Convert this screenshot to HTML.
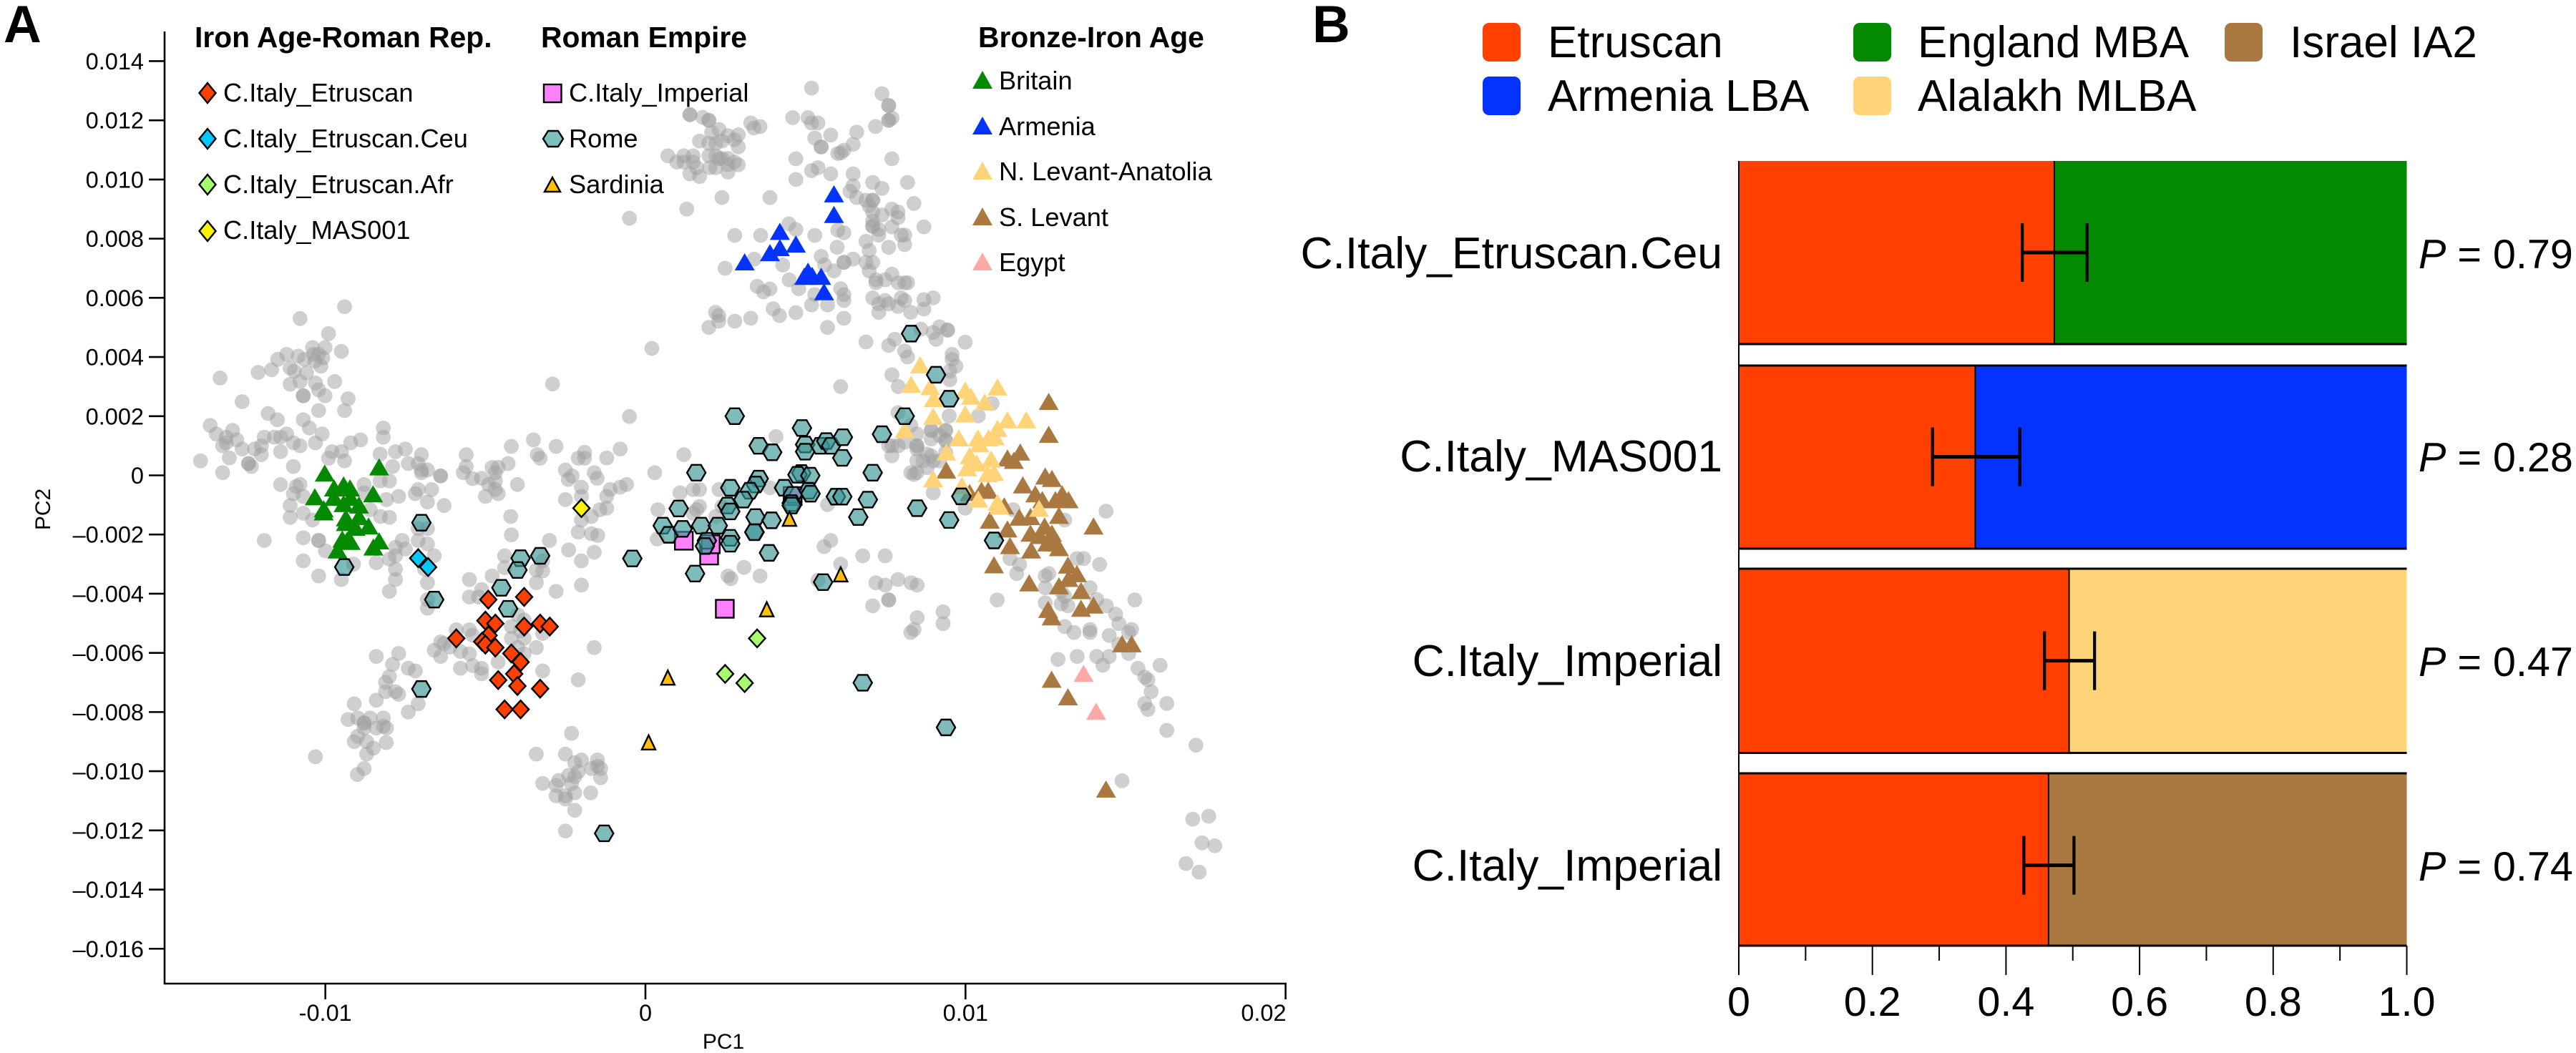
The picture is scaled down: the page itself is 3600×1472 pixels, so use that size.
<!DOCTYPE html>
<html lang="en">
<head>
<meta charset="utf-8">
<title>PCA and ancestry model panels</title>
<style>
html,body{margin:0;padding:0;background:#fff;width:3600px;height:1472px;overflow:hidden}
svg{display:block}
text{font-family:"Liberation Sans",Arial,sans-serif;fill:#000}
.t{font-size:40.8px;font-weight:700}
.l{font-size:36.2px}
.bl{font-size:62px}
</style>
</head>
<body>
<svg id="figure" width="3600" height="1472" viewBox="0 0 3600 1472" xmlns="http://www.w3.org/2000/svg">
<rect width="3600" height="1472" fill="#fff"/>
<text x="5" y="59" style="font-size:73px;font-weight:700">A</text>
<text x="1834" y="59" style="font-size:73px;font-weight:700">B</text>
<g id="panelA"></g>
<g id="axesA">
<text transform="translate(70,712) rotate(-90)" text-anchor="middle" style="font-size:30px">PC2</text>
<text x="1011" y="1466" text-anchor="middle" style="font-size:30px">PC1</text>
</g>
<g>
<text class="t" x="272" y="66">Iron Age-Roman Rep.</text>
<text class="t" x="756" y="66">Roman Empire</text>
<text class="t" x="1367" y="66">Bronze-Iron Age</text>
<text class="l" x="312" y="142">C.Italy_Etruscan</text>
<text class="l" x="312" y="206">C.Italy_Etruscan.Ceu</text>
<text class="l" x="312" y="270">C.Italy_Etruscan.Afr</text>
<text class="l" x="312" y="334">C.Italy_MAS001</text>
<text class="l" x="795" y="142">C.Italy_Imperial</text>
<text class="l" x="795" y="206">Rome</text>
<text class="l" x="795" y="270">Sardinia</text>
<text class="l" x="1396" y="125">Britain</text>
<text class="l" x="1396" y="189">Armenia</text>
<text class="l" x="1396" y="252">N. Levant-Anatolia</text>
<text class="l" x="1396" y="316">S. Levant</text>
<text class="l" x="1396" y="379">Egypt</text>
<polygon points="290,116 301.500,130 290,144 278.500,130" fill="#FF4000" stroke="#000" stroke-width="2.4"/>
<polygon points="290,180 301.500,194 290,208 278.500,194" fill="#00C8FF" stroke="#000" stroke-width="2.4"/>
<polygon points="290,244 301.500,258 290,272 278.500,258" fill="#A6FF6E" stroke="#000" stroke-width="2.4"/>
<polygon points="290,309 301.500,323 290,337 278.500,323" fill="#FFF200" stroke="#000" stroke-width="2.4"/>
<rect x="760" y="118" width="24.500" height="25" fill="#FF80FF" stroke="#000" stroke-width="2.4"/>
<polygon points="759,194 766,183 780,183 787,194 780,205 766,205" fill="#7DBEBF" stroke="#000" stroke-width="2.4"/>
<polygon points="772,248 783,268 761,268" fill="#FFC000" stroke="#000" stroke-width="2.4"/>
<polygon points="1373,99 1387,124 1359,124" fill="#048A00"/>
<polygon points="1373,163 1387,188 1359,188" fill="#0433FF"/>
<polygon points="1373,226 1387,251 1359,251" fill="#FFD479"/>
<polygon points="1373,290 1387,315 1359,315" fill="#AA7942"/>
<polygon points="1373,353 1387,378 1359,378" fill="#FFA8A8"/>
</g>
<g>
<rect x="2072" y="32" width="53" height="54" rx="9" fill="#FF4000"/>
<rect x="2072" y="107" width="53" height="54" rx="9" fill="#0433FF"/>
<rect x="2590" y="32" width="53" height="54" rx="9" fill="#048A00"/>
<rect x="2590" y="107" width="53" height="54" rx="9" fill="#FFD479"/>
<rect x="3109" y="32" width="53" height="54" rx="9" fill="#AA7942"/>
<text class="bl" x="2163" y="80">Etruscan</text>
<text class="bl" x="2163" y="155">Armenia LBA</text>
<text class="bl" x="2680" y="80">England MBA</text>
<text class="bl" x="2680" y="155">Alalakh MLBA</text>
<text class="bl" x="3200" y="80">Israel IA2</text>
</g>
<g id="panelB"></g>
</svg>
<script>
/* PC values are expressed in units of 10^-3 */
const yTickValues = [14,12,10,8,6,4,2,0,-2,-4,-6,-8,-10,-12,-14,-16];
const yTickLabels = ["0.014","0.012","0.010","0.008","0.006","0.004","0.002","0","–0.002","–0.004","–0.006","–0.008","–0.010","–0.012","–0.014","–0.016"];
const xTickValues = [-10,0,10,20];
const xTickLabels = ["-0.01","0","0.01","0.02"];

const greyPoints = [
[-9.40,5.70],[-10.79,5.30],[-9.90,4.79],[-9.50,4.19],[-10.40,4.32],[-10.01,4.32],[-11.21,4.09],[-11.49,3.92],[-10.85,4.03],[-10.65,3.92],[-10.37,4.09],[-10.21,4.09],[-10.08,3.97],[-10.33,3.86],[-10.14,3.69],[-11.68,3.57],[-12.10,3.48],[-11.10,3.63],[-10.97,3.52],[-10.59,3.46],[-13.29,3.29],[-9.71,3.17],[-11.10,3.08],[-10.79,3.17],[-10.31,3.12],[-10.69,2.69],[-10.69,2.69],[-10.21,2.89],[-10.01,2.69],[-9.29,2.59],[-12.60,2.49],[-11.79,2.09],[-9.40,2.19],[-10.21,2.19],[-11.50,1.88],[-10.69,1.88],[-13.60,1.69],[-10.50,1.60],[-8.19,1.60],[-13.41,1.40],[-12.90,1.52],[-13.10,1.29],[-8.19,1.29],[-10.10,1.40],[-11.91,1.29],[-11.60,1.29],[-11.21,1.40],[-11.40,1.29],[-8.90,1.20],[-9.21,1.10],[-10.31,1.10],[-11.00,1.10],[-10.79,1.00],[-12.77,1.20],[-13.21,1.00],[-13.10,1.10],[-12.60,0.89],[-12.21,0.89],[-12.00,1.00],[-11.40,0.80],[-9.79,0.80],[-9.50,0.80],[-8.29,0.72],[-7.81,0.80],[-7.50,0.89],[-7.00,0.70],[-5.60,0.70],[-4.19,0.98],[-3.50,1.20],[-2.79,0.98],[-3.38,0.70],[-3.29,0.58],[-12.00,0.70],[-13.00,0.59],[-12.40,0.40],[-12.40,0.40],[-12.31,0.30],[-13.90,0.49],[-13.21,0.09],[-11.00,0.30],[-9.40,0.49],[-9.90,0.58],[-7.90,0.30],[-7.10,0.40],[-7.41,0.40],[-7.00,0.18],[-6.81,0.18],[-6.40,-0.02],[-6.40,-0.02],[-7.00,0.09],[-5.60,0.30],[-5.69,0.09],[-5.40,-0.11],[-5.12,-0.10],[-4.79,0.27],[-4.60,0.27],[-4.69,0.09],[-4.29,0.40],[-4.69,-0.19],[-4.90,-0.31],[-4.00,-0.31],[-4.69,-0.48],[-4.60,-0.62],[-5.00,-0.71],[-4.21,-1.39],[-2.10,0.58],[-1.90,0.78],[-1.90,0.58],[-2.50,0.18],[-2.41,-0.14],[-2.29,-0.02],[-1.60,0.09],[-1.51,-0.10],[-0.79,0.89],[-1.21,0.59],[-2.00,-0.40],[-2.00,-0.71],[-1.10,-0.48],[-0.79,-0.40],[-0.59,-0.31],[-2.50,-0.82],[-1.21,-0.71],[-1.21,-1.11],[-1.42,-1.16],[-1.69,-1.39],[-2.00,-1.51],[-2.90,3.09],[-0.50,1.99],[-0.50,8.69],
[-11.40,-0.31],[-10.79,-0.31],[-10.91,-0.37],[-11.00,-0.62],[-10.69,-0.71],[-11.10,-1.02],[-11.10,-1.42],[-10.69,-1.28],[-10.40,-1.51],[-8.79,-0.31],[-8.29,-0.19],[-8.00,-0.19],[-8.79,-0.59],[-8.09,-0.82],[-7.71,-0.71],[-7.10,-0.48],[-6.68,-0.48],[-7.19,-0.62],[-6.81,-0.90],[-6.29,-1.02],[-8.00,-1.42],[-8.60,-1.16],[-8.28,-1.39],
[-11.91,-2.20],[-10.69,-2.11],[-10.21,-2.20],[-10.21,-2.20],[-10.69,-2.89],[-10.21,-3.40],[-9.50,-3.52],[-10.00,-2.55],[-9.12,-3.00],[-8.41,-2.95],[-8.00,-2.83],[-7.81,-2.43],[-7.60,-2.20],[-7.81,-2.72],[-7.50,-2.49],[-7.81,-3.17],[-7.81,-3.52],[-8.00,-3.92],[-7.10,-2.20],[-6.81,-2.32],[-6.60,-2.72],[-6.90,-3.17],[-6.81,-3.63],[-6.81,-4.49],[-7.10,-1.80],[-6.81,-1.80],[-6.81,-4.20],[-4.19,-2.01],[-4.40,-2.72],[-4.40,-3.12],[-4.79,-3.40],[-5.50,-3.52],[-5.12,-3.86],[-5.50,-4.11],[-5.21,-4.11],[-3.21,-2.89],[-3.00,-2.20],[-3.41,-3.20],[-3.21,-3.23],[-3.41,-3.63],[-2.79,-3.92],[-2.40,-2.52],[-2.00,-2.89],[-1.60,-2.60],[-2.00,-3.71],[-2.10,-1.92],[-1.69,-1.97],[-1.49,-2.03],[-1.60,-5.82],[-2.10,-6.91],[-5.91,-5.22],[-5.50,-5.22],[-6.40,-5.63],[-5.40,-5.40],[-6.60,-5.91],[-6.29,-5.68],[-6.40,-6.12],[-6.10,-5.80],[-5.78,-5.95],[-5.50,-6.03],[-5.40,-6.43],[-5.78,-6.52],[-5.12,-6.52],[-5.12,-6.71],[-4.60,-6.31],[-3.99,-4.71],[-3.79,-4.89],[-4.19,-5.11],[-3.79,-5.51],[-4.19,-5.51],[-3.99,-5.82],[-3.79,-6.03],[-3.41,-5.82],[-3.21,-6.61],[-3.90,-5.25],[-3.21,-5.34],[-8.41,-6.12],[-7.71,-6.02],[-7.90,-6.39],[-7.41,-6.52],[-7.19,-6.61],[-8.00,-6.80],[-8.12,-7.00],[-8.12,-7.31],[-7.81,-7.31],[-7.71,-7.40],[-8.41,-7.60],[-9.10,-7.72],[-7.10,-7.72],[-7.41,-8.00],[-9.29,-8.25],[-8.99,-8.20],[-8.60,-8.20],[-8.19,-8.20],[-8.79,-8.37],[-8.79,-8.37],[-8.79,-8.54],[-8.41,-8.54],[-8.19,-8.48],[-8.09,-8.54],[-8.99,-8.82],[-9.10,-9.00],[-8.71,-9.00],[-8.10,-9.03],[-8.50,-9.22],[-8.71,-9.42],[-10.31,-9.51],[-8.79,-9.91],[-9.00,-10.11],[-2.31,-8.72],[-3.41,-9.42],[-2.50,-9.42],[-2.00,-9.62],[-2.21,-9.71],[-1.50,-9.62],[-1.50,-9.83],[-1.69,-9.91],[-1.40,-9.91],[-2.10,-10.02],[-2.40,-10.14],[-1.40,-10.22],[-2.71,-10.31],[-2.21,-10.19],[-3.21,-10.41],[-2.79,-10.48],[-2.31,-10.42],[-2.21,-10.73],[-2.79,-10.83],[-2.50,-10.83],[-2.50,-10.94],[-1.71,-10.73],[-2.21,-11.32],[-2.50,-12.02],
[0.37,-2.15],[5.58,-2.41],[5.79,-2.20],[6.79,-2.72],[7.49,-2.72],[6.10,-3.00],[2.67,-3.49],[2.58,-3.40],[3.08,-3.11],[3.58,-3.40],[5.39,-3.55],[7.20,-3.63],[7.49,-3.71],[7.89,-3.52],[8.30,-3.63],[8.49,-3.71],[7.60,-4.21],[7.60,-4.21],[7.10,-4.41],[8.49,-4.81],[9.30,-4.61],[9.30,-5.01],[8.39,-5.21],[8.29,-5.31],[10.99,-4.21],[15.29,-4.21],[13.69,-2.81],[13.48,-2.81],[14.19,-3.01],[11.39,-2.81],[11.69,-3.01],[11.60,-3.32],[12.49,-3.40],[12.60,-3.32],[12.49,-3.80],[13.89,-3.80],[12.99,-3.92],[13.10,-4.09],[14.10,-4.20],[12.99,-4.34],[13.20,-4.41],[12.49,-4.31],[14.40,-4.41],[14.69,-4.69],[14.79,-5.01],[15.19,-5.21],[13.10,-5.11],[13.39,-5.31],[13.89,-5.21],[13.89,-5.31],[14.49,-5.41],[15.10,-5.31],[14.79,-5.71],[15.10,-6.02],[12.89,-6.22],[13.49,-6.12],[14.10,-6.12],[14.49,-6.12],[14.29,-6.42],[15.39,-6.52],[16.08,-6.42],[15.60,-6.82],[15.70,-6.91],[15.80,-7.31],[15.60,-7.71],[15.70,-7.91],[16.29,-7.71],[16.29,-8.62],[17.20,-9.12],[14.89,-10.32],[17.60,-11.52],[17.10,-11.62],[17.39,-12.42],[17.79,-12.52],[16.89,-13.12],[17.30,-13.41],
[5.19,13.09],[7.39,12.90],[7.60,12.50],[7.60,12.50],[1.39,12.19],[1.39,12.19],[1.79,12.10],[1.98,12.00],[1.98,12.00],[3.29,11.91],[3.58,11.79],[3.39,11.74],[4.60,12.09],[5.08,12.09],[5.19,11.91],[5.39,11.91],[7.19,11.79],[7.60,12.00],[7.60,12.00],[7.70,12.08],[2.30,11.69],[2.07,11.59],[2.90,11.51],[2.58,11.48],[2.78,11.34],[1.69,11.30],[1.98,11.22],[2.20,11.22],[2.90,11.10],[2.39,11.30],[0.70,10.80],[1.20,10.80],[1.49,10.80],[0.98,10.59],[1.20,10.59],[1.49,10.59],[1.98,10.80],[2.20,10.80],[2.30,10.71],[2.39,10.71],[2.58,10.71],[2.78,10.59],[2.90,10.50],[2.58,10.50],[2.01,10.40],[2.20,10.40],[2.58,10.25],[1.39,10.19],[1.69,10.10],[1.60,10.40],[5.79,11.50],[6.60,11.60],[5.29,11.40],[5.49,11.10],[5.49,11.10],[6.49,11.19],[6.20,10.99],[6.01,10.88],[6.11,10.90],[4.70,10.70],[7.70,10.70],[5.39,10.40],[5.19,10.30],[5.79,10.19],[4.70,10.00],[6.49,10.19],[7.10,9.90],[6.49,9.79],[8.19,9.90],[7.39,9.70],[6.39,9.60],[6.60,9.39],[2.39,9.39],[3.89,9.39],[1.29,9.00],[6.89,9.30],[7.10,9.30],[7.10,9.30],[6.99,9.11],[8.39,9.19],[7.70,9.00],[7.89,8.90],[7.10,8.90],[7.39,8.80],[7.89,8.71],[7.10,8.60],[7.10,8.42],[7.10,8.42],[7.29,8.31],[7.29,8.12],[7.70,8.40],[8.70,8.40],[4.48,8.50],[4.70,8.31],[3.60,8.11],[2.79,8.11],[5.29,8.11],[6.01,8.29],[6.20,8.20],[6.89,7.91],[8.10,8.12],[7.99,8.12],[8.10,7.80],[6.99,7.60],[7.60,7.71],[5.99,7.71],[5.49,7.40],[6.49,7.31],[3.40,7.31],[6.20,7.20],[6.20,7.20],[5.60,7.11],[6.89,7.20],[7.10,7.20],[4.29,7.11],[2.49,7.00],[6.99,6.91],[5.89,6.91],[4.49,6.61],[7.70,6.80],[7.20,6.61],[7.49,6.61],[7.20,6.51],[7.90,6.51],[8.10,6.51],[8.19,6.51],[3.49,6.39],[3.89,6.30],[3.69,6.20],[4.79,6.31],[6.10,6.31],[6.20,6.11],[6.20,5.91],[7.10,6.00],[7.99,6.00],[8.70,5.94],[8.99,6.00],[7.49,5.91],[7.29,5.80],[7.60,5.80],[8.10,5.91],[7.29,5.51],[5.69,5.76],[5.19,5.76],[5.29,6.11],[3.99,5.63],[4.19,5.40],[4.70,5.50],[2.19,5.51],[2.29,5.40],[2.29,5.21],[2.79,5.21],[3.29,5.31],[1.98,5.00],[7.89,5.71],[8.29,5.51],[8.70,5.62],[6.20,5.31],[5.69,5.00],[6.89,4.51],[0.20,4.29],[7.60,4.39],[7.79,4.60],[8.61,4.94],[8.99,4.83],[9.19,5.02],[9.44,4.91],[9.44,4.91],[9.08,4.60],[9.99,4.50],[8.10,4.20],[8.19,4.00],[9.58,4.09],[9.58,3.92],[9.70,3.69],[9.51,3.52],[9.51,3.23],[7.70,3.40],[6.10,3.00],[7.90,3.00],[10.83,2.43],[7.89,2.12],[9.49,2.01],[10.40,2.01],[8.29,1.69],[8.48,1.40],[8.93,1.52],[8.93,1.52],[9.38,1.52],[9.38,1.52],[8.10,1.12],[8.48,1.00],[8.48,1.00],[9.38,1.18],[9.38,1.18],[7.70,1.00],[7.60,1.00],[7.90,1.00],[8.48,0.89],[8.80,0.72],[8.99,0.49],[9.38,0.78],[7.70,0.66],[8.29,0.09],[8.48,0.09],[8.80,0.26],[8.39,0.03],[8.99,-0.59],[4.08,1.31],[1.20,0.70],[0.29,0.09],[1.08,-0.59],[1.49,-0.48],[1.69,-0.48],[2.30,-0.48],[3.89,-0.42],[5.69,-0.99],[14.39,-1.21],[9.99,-1.11],[1.69,-1.05],[1.60,-1.16],[1.49,-1.28],[2.39,-1.05],[2.20,-1.39],[0.39,-1.16],[11.49,-1.16],[13.10,-1.51],[8.93,1.23],[9.19,1.35],[8.67,0.49],[8.93,0.66],[8.48,0.49],[9.19,0.49]
];
const britainPoints = [[-10.02,0.03],[-8.32,0.24],[-9.73,-0.47],[-9.43,-0.37],[-9.23,-0.47],[-8.51,-0.67],[-10.33,-0.77],[-10.05,-1.18],[-10.05,-1.28],[-9.43,-1.00],[-9.73,-0.79],[-9.21,-0.79],[-8.95,-1.05],[-9.36,-1.48],[-8.95,-1.44],[-8.65,-1.76],[-9.36,-1.64],[-9.06,-1.80],[-9.32,-2.24],[-9.21,-2.28],[-8.32,-2.26],[-8.50,-2.47],[-9.62,-2.57],[-9.47,-2.20]];
const armeniaPoints = [[5.89,9.47],[5.89,8.77],[4.20,8.20],[4.70,7.77],[4.20,7.65],[3.89,7.48],[3.10,7.17],[5.08,6.85],[5.49,6.68],[4.96,6.68],[5.58,6.16],[5.21,6.71]];
const southLevantPoints = [[12.60,2.45],[12.60,1.34],[11.71,0.74],[11.31,0.54],[11.51,0.46],[9.40,0.13],[12.49,-0.07],[12.70,-0.15],[11.79,-0.37],[10.50,-0.55],[10.71,-0.55],[10.13,-0.63],[12.18,-0.67],[12.40,-0.87],[13.02,-0.67],[12.81,-0.87],[13.22,-0.87],[11.21,-1.08],[11.68,-1.46],[12.92,-1.40],[10.76,-1.56],[12.03,-1.44],[14.00,-1.76],[11.31,-1.86],[12.47,-1.76],[12.03,-2.00],[12.70,-2.00],[12.33,-2.08],[11.39,-2.42],[12.05,-2.57],[12.55,-2.33],[12.77,-2.33],[12.92,-2.49],[10.89,-3.07],[13.20,-3.08],[13.48,-3.37],[11.99,-3.68],[12.92,-3.78],[13.22,-3.53],[13.61,-3.94],[12.58,-4.58],[13.61,-4.54],[14.00,-4.43],[12.69,-4.83],[14.89,-5.74],[15.19,-5.74],[12.69,-6.94],[13.20,-7.53],[14.39,-10.65]];
const egyptPoints = [[13.69,-6.74],[14.08,-8.02]];
const levantAnatoliaPoints = [[8.58,3.69],[8.30,3.03],[8.90,2.95],[9.01,2.55],[8.99,1.95],[9.99,2.83],[10.17,2.63],[10.60,2.43],[11.00,2.94],[9.99,2.03],[11.31,1.83],[11.90,1.83],[11.00,1.54],[9.79,1.22],[10.39,1.22],[10.72,1.22],[10.91,1.26],[10.43,1.02],[10.13,0.62],[10.80,0.50],[10.35,0.37],[9.40,0.74],[10.05,0.21],[10.69,0.01],[10.89,0.05],[8.99,-0.16],[9.89,-0.39],[10.40,-0.85],[11.00,-0.96],[11.06,-1.08],[12.30,-1.16],[8.10,1.50]];
const imperialPoints = [[2.48,-4.51],[1.20,-2.21],[1.99,-2.71],[2.04,-2.33],[4.60,-0.70]];
const romePoints = [[-7.00,-1.60],[-9.41,-3.10],[-6.60,-4.20],[-7.00,-7.22],[-3.90,-2.80],[-3.29,-2.72],[-4.00,-3.20],[-4.50,-3.80],[-4.29,-4.51],[-0.41,-2.81],[-1.29,-12.10],[8.30,4.79],[9.08,3.40],[9.49,2.59],[8.10,2.00],[2.79,2.00],[4.89,1.60],[7.39,1.39],[3.54,1.00],[3.96,0.78],[4.99,1.04],[4.99,0.80],[5.46,1.00],[5.65,1.16],[5.80,1.00],[6.17,1.29],[6.15,0.59],[1.59,0.09],[7.10,0.09],[4.87,0.08],[4.75,0.02],[5.15,-0.01],[3.54,-0.11],[3.45,-0.31],[2.65,-0.42],[3.26,-0.52],[4.33,-0.42],[4.60,-0.66],[5.10,-0.52],[5.16,-0.62],[5.95,-0.72],[6.15,-0.72],[6.95,-0.82],[4.57,-0.94],[4.57,-1.02],[3.06,-0.82],[2.56,-1.02],[2.65,-1.22],[1.04,-1.12],[3.44,-1.41],[3.94,-1.52],[6.65,-1.41],[0.54,-1.70],[0.73,-2.01],[1.16,-1.81],[1.74,-1.70],[2.26,-1.70],[1.92,-2.21],[1.86,-2.39],[2.65,-2.11],[2.65,-2.31],[3.41,-1.92],[3.40,-1.92],[3.86,-2.62],[1.55,-3.32],[5.55,-3.61],[8.49,-1.11],[9.49,-1.51],[9.87,-0.71],[10.89,-2.20],[6.79,-7.01],[9.39,-8.52]];
const sardiniaPoints = [[6.10,-3.37],[3.79,-4.55],[0.70,-6.86],[0.10,-9.05],[4.50,-1.49]];
const etruscanAfrPoints = [[3.49,-5.51],[2.49,-6.71],[3.10,-7.02]];
const mas001Points = [[-2.00,-1.11]];
const etruscanCeuPoints = [[-7.10,-2.80],[-6.79,-3.10]];
const etruscanPoints = [[-4.91,-4.20],[-3.79,-4.11],[-5.00,-4.91],[-4.69,-5.01],[-3.79,-5.11],[-3.29,-5.01],[-2.99,-5.11],[-5.91,-5.51],[-4.90,-5.41],[-5.10,-5.62],[-5.00,-5.72],[-4.69,-5.82],[-4.19,-6.02],[-3.90,-6.31],[-4.10,-6.71],[-4.60,-6.92],[-4.00,-7.12],[-3.29,-7.21],[-4.40,-7.91],[-3.90,-7.91]];

const barCategories = ["C.Italy_Etruscan.Ceu","C.Italy_MAS001","C.Italy_Imperial","C.Italy_Imperial"];
const etruscanShare = [0.4723,0.354,0.4945,0.4637];
const errorLow = [0.4244,0.290,0.4576,0.4268];
const errorHigh = [0.5215,0.4207,0.5326,0.5018];
const pValueLabels = ["0.79","0.28","0.47","0.74"];
const secondSourceColors = ["#048A00","#0433FF","#FFD479","#AA7942"];
const shareMajorTicks = [0,0.2,0.4,0.6,0.8,1.0];
const shareMajorLabels = ["0","0.2","0.4","0.6","0.8","1.0"];
const shareMinorTicks = [0.1,0.3,0.5,0.7,0.9];

const NS = "http://www.w3.org/2000/svg";
function mk(parent, tag, attrs, txt) {
  const el = document.createElementNS(NS, tag);
  for (const k in attrs) el.setAttribute(k, attrs[k]);
  if (txt !== undefined) el.textContent = txt;
  parent.appendChild(el);
  return el;
}
const xPC = v => 902 + v * 44.73;
const yPC = v => 664.5 - v * 41.36;
const xShare = v => 2430 + v * 933.5;

const plot = document.getElementById("panelA");
const axes = document.getElementById("axesA");

function drawSeries(points, name, draw) {
  const g = mk(plot, "g", {});
  
  
  points.forEach(p => {
    const el = draw(g, xPC(p[0]), yPC(p[1]));
    
    
  });
}
const circle = (g, x, y) => mk(g, "circle", {cx: x, cy: y, r: 10.4, fill: "rgb(160,160,160)", "fill-opacity": 0.5});
const triangle = (fill, stroke) => (g, x, y) => {
  const w = stroke ? 9.5 : 14, up = stroke ? 11 : 14, dn = stroke ? 9 : 10;
  return mk(g, "polygon", Object.assign({points: `${x},${y-up} ${x+w},${y+dn} ${x-w},${y+dn}`, fill: fill},
    stroke ? {stroke: "#000", "stroke-width": 2.4} : {}));
};
const diamond = fill => (g, x, y) => mk(g, "polygon", {points: `${x},${y-12.5} ${x+11.5},${y} ${x},${y+12.5} ${x-11.5},${y}`, fill: fill, stroke: "#000", "stroke-width": 2.4});
const square = (g, x, y) => mk(g, "rect", {x: x-12.5, y: y-12.5, width: 25, height: 25, fill: "#FF80FF", stroke: "#000", "stroke-width": 2.4});
const hexagon = (g, x, y) => mk(g, "polygon", {points: `${x-13},${y} ${x-6.5},${y-11} ${x+6.5},${y-11} ${x+13},${y} ${x+6.5},${y+11} ${x-6.5},${y+11}`, fill: "rgb(60,150,152)", "fill-opacity": 0.65, stroke: "#000", "stroke-width": 2.4});

drawSeries(greyPoints, "reference-sample", circle);
drawSeries(britainPoints, "britain", triangle("#048A00"));
drawSeries(armeniaPoints, "armenia", triangle("#0433FF"));
drawSeries(southLevantPoints, "s-levant", triangle("#AA7942"));
drawSeries(egyptPoints, "egypt", triangle("#FFA8A8"));
drawSeries(levantAnatoliaPoints, "levant-anatolia", triangle("#FFD479"));
drawSeries(imperialPoints, "imperial", square);
drawSeries(romePoints, "rome", hexagon);
drawSeries(sardiniaPoints, "sardinia", triangle("#FFC000", true));
drawSeries(etruscanAfrPoints, "etruscan-afr", diamond("#A6FF6E"));
drawSeries(mas001Points, "mas001", diamond("#FFF200"));
drawSeries(etruscanCeuPoints, "etruscan-ceu", diamond("#00C8FF"));
drawSeries(etruscanPoints, "etruscan", diamond("#FF4000"));

/* axes A */
const yAxisLine = mk(axes, "line", {x1: 230, y1: 44, x2: 230, y2: 1376, stroke: "#000", "stroke-width": 2.6});


const xAxisLine = mk(axes, "line", {x1: 229, y1: 1375, x2: 1798, y2: 1375, stroke: "#000", "stroke-width": 2.6});


yTickValues.forEach((v, i) => {
  const y = yPC(v);
  const tick = mk(axes, "line", {x1: 208, y1: y, x2: 230, y2: y, stroke: "#000", "stroke-width": 2.6});
  
  
  const lab = mk(axes, "text", {x: 201, y: y + 11.5, "text-anchor": "end", style: "font-size:32.5px"}, yTickLabels[i]);
  
  
});
xTickValues.forEach((v, i) => {
  const x = xPC(v);
  const tick = mk(axes, "line", {x1: x, y1: 1375, x2: x, y2: 1397, stroke: "#000", "stroke-width": 2.6});
  
  
  const last = i === xTickValues.length - 1;
  const lab = mk(axes, "text", {x: last ? x + 1 : x, y: 1427, "text-anchor": last ? "end" : "middle", style: "font-size:32.5px"}, xTickLabels[i]);
  
  
});

/* panel B */
const panelB = document.getElementById("panelB");
const rowTop = [225, 511, 795, 1081];
const rowBottom = [481, 767, 1052.5, 1322];
const errCenter = [353, 638.6, 923.6, 1209.6];
const labelBase = [375, 659, 945, 1231];
barCategories.forEach((cat, i) => {
  const t = rowTop[i], b = rowBottom[i], split = xShare(etruscanShare[i]);
  const r1 = mk(panelB, "rect", {x: xShare(0), y: t, width: split - xShare(0), height: b - t, fill: "#FF4000"});
  
  
  const r2 = mk(panelB, "rect", {x: split, y: t, width: xShare(1) - split, height: b - t, fill: secondSourceColors[i]});
  
  
  mk(panelB, "line", {x1: split, y1: t, x2: split, y2: b, stroke: "#000", "stroke-width": 2});
  mk(panelB, "line", {x1: xShare(0), y1: b, x2: xShare(1), y2: b, stroke: "#000", "stroke-width": 3});
  if (i > 0) mk(panelB, "line", {x1: xShare(0), y1: t, x2: xShare(1), y2: t, stroke: "#000", "stroke-width": 3});
  const c = errCenter[i], lo = xShare(errorLow[i]), hi = xShare(errorHigh[i]);
  const errBar = mk(panelB, "path", {d: `M${lo},${c-41}V${c+41}M${hi},${c-41}V${c+41}`, stroke: "#000", "stroke-width": 4.2, fill: "none"});
  
  
  const errMid = mk(panelB, "line", {x1: lo, y1: c, x2: hi, y2: c, stroke: "#000", "stroke-width": 5});
  
  
  const lab = mk(panelB, "text", {x: 2407, y: labelBase[i], "text-anchor": "end", style: "font-size:62.4px"}, cat);
  
  
  const pv = mk(panelB, "text", {x: 3380, y: labelBase[i], style: "font-size:57.5px"});
  
  
  mk(pv, "tspan", {style: "font-style:italic"}, "P");
  mk(pv, "tspan", {}, " = " + pValueLabels[i]);
});
const shareAxis = mk(panelB, "line", {x1: xShare(0), y1: 225, x2: xShare(0), y2: 1363, stroke: "#000", "stroke-width": 2});


shareMajorTicks.forEach((v, i) => {
  const x = xShare(v);
  const tick = mk(panelB, "line", {x1: x, y1: 1322, x2: x, y2: 1363, stroke: "#000", "stroke-width": 2});
  
  
  const lab = mk(panelB, "text", {x: x, y: 1420, "text-anchor": "middle", style: "font-size:57.5px"}, shareMajorLabels[i]);
  
  
});
shareMinorTicks.forEach(v => {
  const x = xShare(v);
  const tick = mk(panelB, "line", {x1: x, y1: 1322, x2: x, y2: 1343, stroke: "#000", "stroke-width": 2});
  
  
});
</script>
</body>
</html>
